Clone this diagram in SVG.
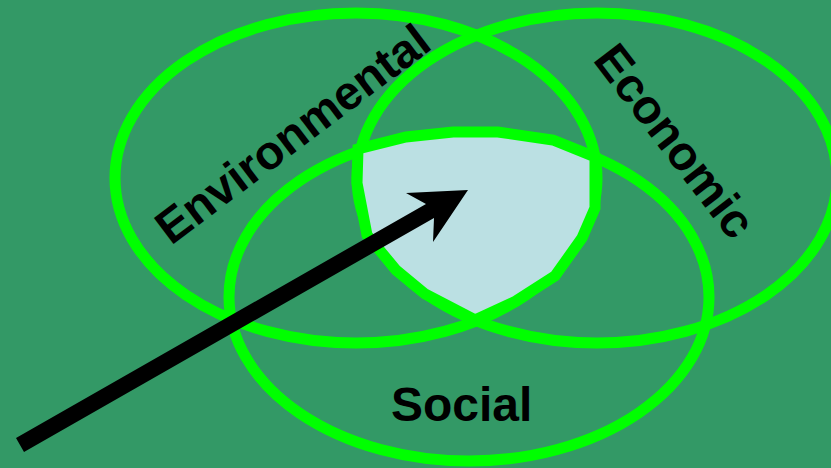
<svg xmlns="http://www.w3.org/2000/svg" width="831" height="468" viewBox="0 0 831 468">
<style>
.set{fill:none;stroke:#00ff00;stroke-width:11}
.lab{font-family:"Liberation Sans",Arial,sans-serif;font-weight:bold;font-size:48px;fill:#000}
</style>
<rect width="831" height="468" fill="#339966"/>
<g id="environmental"><ellipse class="set" cx="356" cy="178" rx="241" ry="165"/><text class="lab" style="font-size:47.4px" transform="translate(171 246) rotate(-37)">Environmental</text></g>
<g id="economic"><ellipse class="set" cx="597" cy="178" rx="240" ry="165"/><text class="lab" transform="translate(592 60) rotate(52.5)">Economic</text></g>
<g id="social"><ellipse class="set" cx="469" cy="297" rx="240" ry="164"/><text class="lab" x="391" y="421">Social</text></g>
<g id="overlap"><polygon points="358,149 406,137 453,132 498,132 553,140 595,157 595,208 582,238 555,276 516,301 475,320 425,294 396,270 367,235 357,183" fill="#bbe0e3" stroke="#00ff00" stroke-width="11"/></g>
<g id="connectors"><polygon points="16,438 426,204 406,193 468,190 433,242 434,218 24,452" fill="#000"/></g>
</svg>
